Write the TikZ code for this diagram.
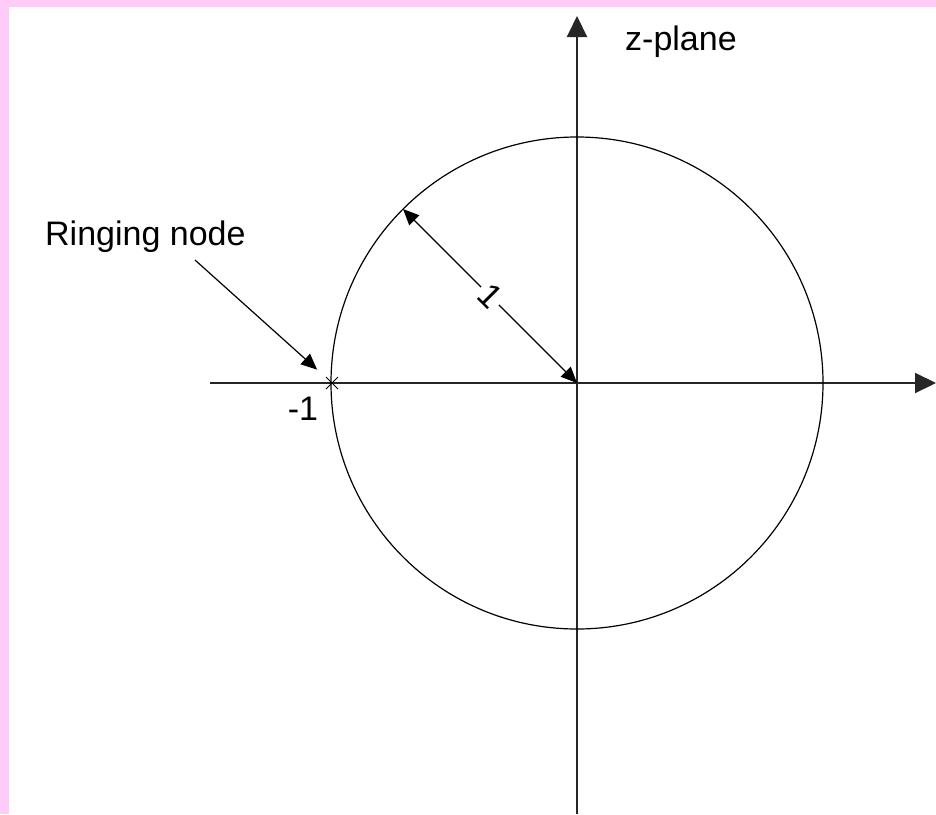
\documentclass[tikz,border=0pt]{standalone}
\usepackage{fontspec}
\setmainfont{Liberation Sans}
\usetikzlibrary{arrows.meta}
\definecolor{pinkedge}{RGB}{255,204,250}

\begin{document}
\begin{tikzpicture}[x=1pt, y=-1pt,
    lbl/.style={font=\fontsize{34}{40}\selectfont, inner sep=0pt},
    axis/.style={line width=2pt, black!85, -{Triangle[length=21pt,width=20pt]}},
    pointer/.style={line width=1.2pt, -{Triangle[length=16pt,width=14pt]}}]
    % Frame
    \useasboundingbox (0,0) rectangle (936,814);
    \fill[white] (0,0) rectangle (936,814);
    \fill[pinkedge] (0,0) rectangle (936,7);
    \fill[pinkedge] (0,0) rectangle (9,814);

    % Points
    \coordinate (O) at (577,383);
    \coordinate (xstart) at (210,383);
    \coordinate (xend) at (936,383);
    \coordinate (ystart) at (577,814);
    \coordinate (yend) at (577,16);
    \coordinate (rim) at (403,209);
    \coordinate (ring) at (332,383);
    \coordinate (ringtail) at (195,260);

    % Axes
    \draw[axis] (xstart) -- (xend);
    \draw[axis] (ystart) -- (yend);

    % Unit circle
    \draw[line width=1.2pt] (O) circle[radius=246];

    % Radius
    \draw[pointer, {Triangle[length=16pt,width=14pt]}-{Triangle[length=16pt,width=14pt]}]
        (O) -- node[lbl, fill=white, rotate=-45, inner sep=3pt] (one) {1} (rim);

    % Ringing node at -1
    \draw[line width=0.8pt] (ring) +(-6,-6) -- +(6,6) (ring) +(-6,6) -- +(6,-6);
    \node[lbl, anchor=base west] (ringlbl) at (45,245) {Ringing node};
    \draw[pointer, shorten >=20pt] (ringtail) -- (ring);
    \node[lbl, anchor=base] (minusone) at (303,420) {-1};

    % Plane label
    \node[lbl, anchor=base west] (zlbl) at (625,50) {z-plane};
\end{tikzpicture}
\end{document}
